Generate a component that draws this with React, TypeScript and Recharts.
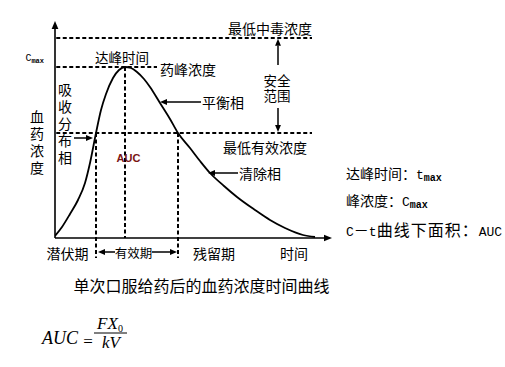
import React from 'react';
import { LineChart, Line, XAxis, YAxis, ReferenceLine, ReferenceDot } from 'recharts';

// time after oral dose (arbitrary units) and plasma concentration (arbitrary units)
const timePoints = [0, 2.8, 6, 9.2, 12, 14, 16.4, 18.4, 20.4, 23.2, 25.6, 28, 30.4, 32.8, 35.6, 38, 42, 46, 49.2, 54, 58, 62, 67.6, 72.8, 80, 86, 92, 99.2, 104];
const concentration = [1, 5.5, 12, 19, 27.5, 37.5, 52.5, 64, 72, 80, 84, 85.5, 85, 83, 79.5, 75.5, 67.5, 59.5, 52.5, 45, 38.5, 32.5, 26, 20.5, 14, 9, 5, 1.5, 0.5];

// key levels / times
const toxicLevel = 100; // 最低中毒浓度
const cmax = 85.5; // 药峰浓度
const mecLevel = 52.5; // 最低有效浓度
const tOnset = 16.4;
const tmax = 28;
const tOffset = 49.2;

const xDomain: [number, number] = [0, 110];
const yDomain: [number, number] = [0, 107];

const data = timePoints.map((t, i) => ({ t, c: concentration[i] }));

const CJK = '"Noto Sans CJK SC", "Noto Sans", sans-serif';
const CJK_TIGHT = '"Liberation Sans", "Noto Sans CJK SC", sans-serif';
const MONO = '"Liberation Mono", "DejaVu Sans Mono", monospace';
const SERIF = '"Liberation Serif", "DejaVu Serif", serif';

function arrowShape(head = 7, width = 1.5) {
  return (p: any) => {
    const { x1, y1, x2, y2 } = p;
    const ang = Math.atan2(y2 - y1, x2 - x1);
    const hx = x2 - head * Math.cos(ang);
    const hy = y2 - head * Math.sin(ang);
    const w = head * 0.42;
    const ox = -Math.sin(ang) * w;
    const oy = Math.cos(ang) * w;
    return (
      <g>
        <line x1={x1} y1={y1} x2={hx} y2={hy} stroke="#000" strokeWidth={width} />
        <polygon points={`${x2},${y2} ${hx + ox},${hy + oy} ${hx - ox},${hy - oy}`} fill="#000" />
      </g>
    );
  };
}

const note = (key: string, x: number, y: number, render: (cx: number, cy: number) => React.ReactNode) => (
  <ReferenceDot
    key={key}
    x={x}
    y={y}
    r={1}
    ifOverflow="visible"
    shape={(p: any) => <g>{render(p.cx, p.cy)}</g>}
  />
);

const cjk = (key: string, x: number, y: number, text: string, size = 14, anchor: 'start' | 'middle' | 'end' = 'middle', family = CJK) =>
  note(key, x, y, (cx, cy) => (
    <text x={cx} y={cy} textAnchor={anchor} dominantBaseline="central" fontFamily={family} fontSize={size} fill="#000">
      {text}
    </text>
  ));

// vertical (top-to-bottom) text, centred on (x, y)
const vtext = (key: string, x: number, y: number, text: string, gap: number, size = 14) =>
  note(key, x, y, (cx, cy) => (
    <text
      x={cx}
      y={cy + gap / 2}
      textAnchor="middle"
      fontFamily={CJK}
      fontSize={size}
      fill="#000"
      style={{ writingMode: 'vertical-rl', letterSpacing: gap } as any}
    >
      {text}
    </text>
  ));

const dash = { stroke: '#000', strokeWidth: 2, strokeDasharray: '4 2.5' };

export default function App() {
  const arrow = arrowShape(7, 1.5);
  const axisArrow = arrowShape(8, 1.6);
  return (
    <div style={{ position: 'fixed', left: 0, top: 0, width: 505, height: 367, background: '#fff' }}>
      <LineChart width={505} height={367} data={data} margin={{ top: 24, left: 55, right: 175, bottom: 129 }}>
        <XAxis dataKey="t" type="number" domain={xDomain} hide allowDataOverflow />
        <YAxis type="number" domain={yDomain} hide allowDataOverflow />

        {/* dashed guide lines */}
        <ReferenceLine segment={[{ x: 0.5, y: toxicLevel }, { x: 102.8, y: toxicLevel }]} ifOverflow="visible" {...dash} />
        <ReferenceLine segment={[{ x: 0.5, y: cmax }, { x: 40.8, y: cmax }]} ifOverflow="visible" {...dash} />
        <ReferenceLine segment={[{ x: 0.5, y: mecLevel }, { x: 102.8, y: mecLevel }]} ifOverflow="visible" {...dash} />
        <ReferenceLine segment={[{ x: tOnset, y: mecLevel }, { x: tOnset, y: -10 }]} ifOverflow="visible" {...dash} />
        <ReferenceLine segment={[{ x: tmax, y: cmax }, { x: tmax, y: 0 }]} ifOverflow="visible" {...dash} />
        <ReferenceLine segment={[{ x: tOffset, y: mecLevel }, { x: tOffset, y: -10 }]} ifOverflow="visible" {...dash} />

        <Line type="monotone" dataKey="c" stroke="#000" strokeWidth={1.8} dot={false} isAnimationActive={false} />

        {/* axes with arrowheads */}
        <ReferenceLine segment={[{ x: 0, y: 0 }, { x: 0, y: 108.5 }]} ifOverflow="visible" shape={axisArrow} />
        <ReferenceLine segment={[{ x: 0, y: 0 }, { x: 110.8, y: 0 }]} ifOverflow="visible" shape={axisArrow} />

        {/* annotation arrows */}
        <ReferenceLine segment={[{ x: 89.2, y: 86.5 }, { x: 89.2, y: 99.6 }]} ifOverflow="visible" shape={arrow} />
        <ReferenceLine segment={[{ x: 89.2, y: 65 }, { x: 89.2, y: 53 }]} ifOverflow="visible" shape={arrow} />
        <ReferenceLine segment={[{ x: 58.4, y: 68 }, { x: 42, y: 68 }]} ifOverflow="visible" shape={arrow} />
        <ReferenceLine segment={[{ x: 73.2, y: 32.5 }, { x: 61.2, y: 32.5 }]} ifOverflow="visible" shape={arrow} />
        <ReferenceLine segment={[{ x: 7.6, y: 50 }, { x: 15.2, y: 50 }]} ifOverflow="visible" shape={arrow} />
        <ReferenceLine segment={[{ x: 24, y: -7 }, { x: 17.2, y: -7 }]} ifOverflow="visible" shape={arrow} />
        <ReferenceLine segment={[{ x: 38.8, y: -7 }, { x: 48.8, y: -7 }]} ifOverflow="visible" shape={arrow} />

        {/* labels */}
        {cjk('toxic', 102.8, 105, '最低中毒浓度', 14, 'end')}
        {note('cmaxl', -4.4, 90, (cx, cy) => (
          <text x={cx} y={cy + 3} textAnchor="end" fontFamily={MONO} fill="#000">
            <tspan fontSize={10}>C</tspan>
            <tspan fontSize={7} fontWeight="bold" dy={1.5}>max</tspan>
          </text>
        ))}
        {cjk('tpk', 26.8, 90.5, '达峰时间', 13.5)}
        {cjk('cpk', 53.2, 84.75, '药峰浓度', 14)}
        {cjk('safe1', 88.8, 78.4, '安全', 13.5, 'middle', CJK_TIGHT)}
        {cjk('safe2', 88.8, 70.6, '范围', 13.5, 'middle', CJK_TIGHT)}
        {cjk('eq', 67.2, 68, '平衡相', 14)}
        {cjk('mec', 84, 45.5, '最低有效浓度', 14)}
        {cjk('elim', 82, 32.5, '清除相', 14)}
        {vtext('abs', 4, 57, '吸收分布相', 3, 14)}
        {vtext('ylab', -7.2, 47.75, '血药浓度', 3, 14)}
        {note('auc', 29.4, 40.25, (cx, cy) => (
          <text x={cx} y={cy} textAnchor="middle" dominantBaseline="central" fontFamily='"Liberation Sans Narrow", "Liberation Sans", sans-serif' fontWeight="bold" fontSize={11} fill="#7a1414">
            AUC
          </text>
        ))}
        {cjk('lat', 5, -7.5, '潜伏期', 14)}
        {cjk('eff', 31.4, -7, '有效期', 12.5)}
        {cjk('res', 63.6, -7.5, '残留期', 14)}
        {cjk('time', 95.6, -7.5, '时间', 14)}
        {cjk('title', 58.6, -23.5, '单次口服给药后的血药浓度时间曲线', 16)}

        {/* right-hand legend */}
        {note('r1', 116.4, 32, (cx, cy) => (
          <text x={cx} y={cy + 5} fill="#000">
            <tspan fontFamily={CJK} fontSize={14}>达峰时间：</tspan>
            <tspan fontFamily={MONO} fontSize={13}>t</tspan>
            <tspan fontFamily={MONO} fontSize={10} fontWeight="bold" dy={2}>max</tspan>
          </text>
        ))}
        {note('r2', 116.4, 18.5, (cx, cy) => (
          <text x={cx} y={cy + 5} fill="#000">
            <tspan fontFamily={CJK} fontSize={14}>峰浓度：</tspan>
            <tspan fontFamily={MONO} fontSize={13}>C</tspan>
            <tspan fontFamily={MONO} fontSize={10} fontWeight="bold" dy={2}>max</tspan>
          </text>
        ))}
        {note('r3', 116.4, 4, (cx, cy) => (
          <text x={cx} y={cy + 6} fill="#000">
            <tspan fontFamily={MONO} fontSize={13}>C</tspan>
            <tspan fontFamily={CJK} fontSize={15}>－</tspan>
            <tspan fontFamily={MONO} fontSize={13}>t</tspan>
            <tspan fontFamily={CJK} fontSize={16} letterSpacing={1}>曲线下面积：</tspan>
            <tspan fontFamily={MONO} fontSize={13}>AUC</tspan>
          </text>
        ))}

        {/* formula AUC = F·X0 / (k·V) */}
        {note('f1', -5.2, -53, (cx, cy) => (
          <text x={cx} y={cy} fontFamily={SERIF} fontStyle="italic" fontSize={18} fill="#000">AUC</text>
        ))}
        {note('f2', 13.2, -51.5, (cx, cy) => (
          <text x={cx} y={cy} textAnchor="middle" dominantBaseline="central" fontFamily={SERIF} fontSize={17} fill="#000">=</text>
        ))}
        <ReferenceLine segment={[{ x: 15.6, y: -47.5 }, { x: 28.8, y: -47.5 }]} ifOverflow="visible" stroke="#000" strokeWidth={1} />
        {note('f3', 22, -45.5, (cx, cy) => (
          <text x={cx} y={cy} textAnchor="middle" fontFamily={SERIF} fontStyle="italic" fontSize={17} fill="#000">
            FX<tspan fontSize={10} fontStyle="normal" dy={3}>0</tspan>
          </text>
        ))}
        {note('f4', 22.4, -55, (cx, cy) => (
          <text x={cx} y={cy} textAnchor="middle" fontFamily={SERIF} fontStyle="italic" fontSize={17} fill="#000">kV</text>
        ))}
      </LineChart>
    </div>
  );
}
